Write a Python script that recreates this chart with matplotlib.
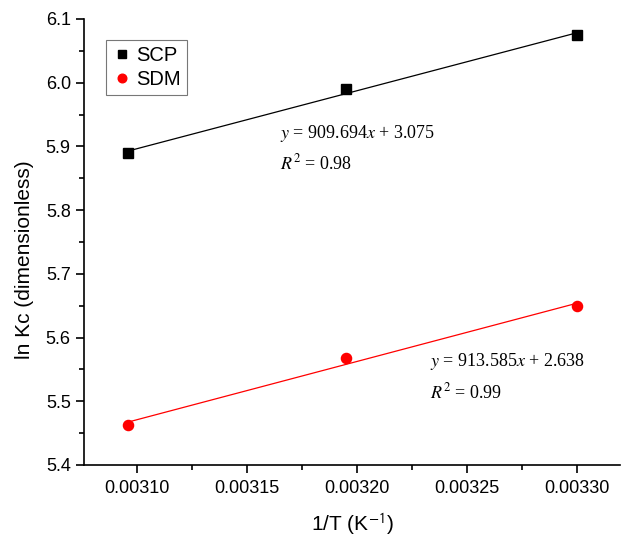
import numpy as np
import matplotlib
matplotlib.use("Agg")
import matplotlib.pyplot as plt
from matplotlib.ticker import MultipleLocator, FormatStrFormatter

plt.rcParams["font.family"] = ["Liberation Sans", "DejaVu Sans"]
plt.rcParams["mathtext.fontset"] = "stix"

inv_T = [0.003096, 0.003195, 0.003300]
scp = [5.889, 5.990, 6.075]
sdm = [5.462, 5.568, 5.649]
eq_scp = ["$y$ = 909.694$x$ + 3.075", "$R^2$ = 0.98"]
eq_sdm = ["$y$ = 913.585$x$ + 2.638", "$R^2$ = 0.99"]

fig = plt.figure(figsize=(6.22, 5.35), dpi=100)
ax = fig.add_axes([0.135, 0.131, 0.862, 0.8335])

for yv, col, mk, lab in [(scp, "black", "s", "SCP"), (sdm, "red", "o", "SDM")]:
    k, b = np.polyfit(inv_T, yv, 1)
    xx = np.array([min(inv_T), max(inv_T)])
    ax.plot(xx, k * xx + b, color=col, lw=0.9, zorder=2)
    ax.plot(inv_T, yv, ls="none", marker=mk, color=col, ms=7.3 if mk == "o" else 6.6,
            label=lab, zorder=3)

serif = ["Liberation Serif", "DejaVu Serif"]
ax.text(0.003165, 5.921, eq_scp[0], fontsize=13, va="center", family=serif)
ax.text(0.003165, 5.874, eq_scp[1], fontsize=13, va="center", family=serif)
ax.text(0.003233, 5.562, eq_sdm[0], fontsize=13, va="center", family=serif)
ax.text(0.003233, 5.514, eq_sdm[1], fontsize=13, va="center", family=serif)

ax.set_xlim(0.003076, 0.0033195)
ax.set_ylim(5.4, 6.1)
ax.xaxis.set_major_locator(MultipleLocator(0.00005))
ax.xaxis.set_minor_locator(MultipleLocator(0.000025))
ax.yaxis.set_major_locator(MultipleLocator(0.1))
ax.yaxis.set_minor_locator(MultipleLocator(0.05))
ax.xaxis.set_major_formatter(FormatStrFormatter("%.5f"))
ax.yaxis.set_major_formatter(FormatStrFormatter("%.1f"))
ax.spines["top"].set_visible(False)
ax.spines["right"].set_visible(False)
for s in ("left", "bottom"):
    ax.spines[s].set_linewidth(1.2)
ax.tick_params(which="major", direction="out", length=6, width=1.2, labelsize=13)
ax.tick_params(which="minor", direction="out", length=3.5, width=1.2)
ax.tick_params(axis="x", pad=5)

ax.set_xlabel("1/T (K$^{\\mathsf{-1}}$)", fontsize=15)
ax.set_ylabel("ln Kc (dimensionless)", fontsize=15)
ax.xaxis.set_label_coords(0.5, -0.103)
ax.yaxis.set_label_coords(-0.094, 0.46)

leg = ax.legend(loc="upper left", bbox_to_anchor=(0.022, 0.975), fontsize=14.5,
                frameon=True, fancybox=False, handletextpad=0.2, borderpad=0.3,
                handlelength=1.0, labelspacing=0.25, markerscale=0.85)
leg.get_frame().set_edgecolor("#555555")
leg.get_frame().set_linewidth(0.8)

fig.savefig("out.png", dpi=100)
